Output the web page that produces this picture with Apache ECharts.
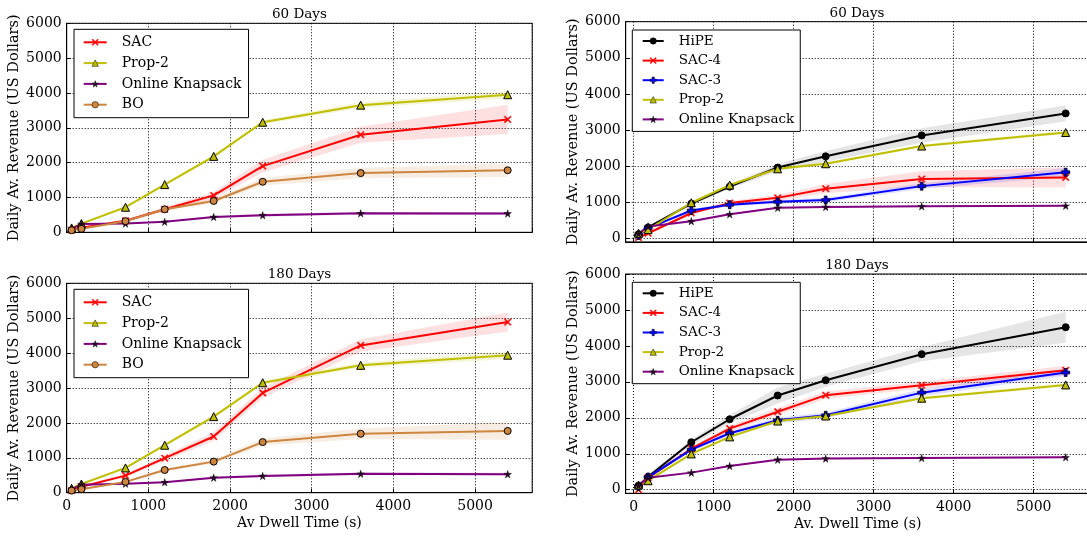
<!DOCTYPE html>
<html>
<head>
<meta charset="utf-8">
<script src="https://cdn.jsdelivr.net/npm/echarts@6/dist/echarts.min.js"></script>
<style>
html,body{margin:0;padding:0;background:#fff;}
#chart{width:1087px;height:536px;}
</style>
</head>
<body>
<div id="chart"></div>
<script>
// ---------------- DATA ----------------
const dwellTimes = [60, 180, 720, 1200, 1800, 2400, 3600, 5400];

// Top-left: 60 Days
const tl_SAC   = [60, 130, 330, 660, 1060, 1900, 2800, 3240];
const tl_Prop2 = [125, 250, 720, 1370, 2180, 3160, 3650, 3950];
const tl_OK    = [100, 240, 250, 300, 440, 490, 545, 540];
const tl_BO    = [60, 100, 320, 660, 900, 1450, 1700, 1780];
const tl_SAC_err   = [20, 30, 40, 60, 100, 180, 230, 420];
const tl_Prop2_err = [10, 20, 30, 40, 50, 60, 80, 110];
const tl_OK_err    = [10, 20, 20, 20, 30, 40, 40, 40];
const tl_BO_err    = [10, 20, 30, 40, 60, 110, 150, 190];

// Top-right: 60 Days
const tr_HiPE  = [110, 300, 960, 1430, 1960, 2270, 2850, 3460];
const tr_SAC4  = [20, 140, 700, 975, 1120, 1375, 1640, 1685];
const tr_SAC3  = [80, 280, 770, 930, 1010, 1060, 1445, 1830];
const tr_Prop2 = [140, 240, 985, 1475, 1925, 2065, 2555, 2930];
const tr_OK    = [130, 325, 475, 665, 845, 870, 885, 900];
const tr_HiPE_err  = [20, 30, 50, 60, 100, 150, 200, 220];
const tr_SAC4_err  = [20, 30, 50, 60, 80, 130, 220, 280];
const tr_SAC3_err  = [20, 30, 40, 40, 50, 60, 80, 120];
const tr_Prop2_err = [10, 20, 30, 30, 40, 40, 40, 50];
const tr_OK_err    = [10, 10, 20, 20, 20, 20, 20, 20];

// Bottom-left: 180 Days
const bl_SAC   = [60, 170, 490, 990, 1610, 2860, 4220, 4890];
const bl_Prop2 = [125, 250, 710, 1360, 2180, 3150, 3650, 3940];
const bl_OK    = [100, 230, 260, 300, 430, 480, 540, 530];
const bl_BO    = [60, 100, 310, 650, 890, 1450, 1690, 1770];
const bl_SAC_err   = [20, 30, 50, 80, 120, 150, 180, 270];
const bl_Prop2_err = [10, 20, 30, 40, 50, 60, 80, 110];
const bl_OK_err    = [10, 20, 20, 20, 30, 40, 40, 40];
const bl_BO_err    = [10, 20, 30, 40, 60, 100, 150, 250];

// Bottom-right: 180 Days
const br_HiPE  = [110, 360, 1320, 1960, 2620, 3045, 3770, 4520];
const br_SAC4  = [0, 330, 1140, 1700, 2170, 2630, 2905, 3320];
const br_SAC3  = [90, 350, 1115, 1570, 1930, 2070, 2700, 3260];
const br_Prop2 = [130, 250, 995, 1470, 1910, 2050, 2545, 2915];
const br_OK    = [120, 330, 475, 660, 835, 865, 880, 900];
const br_HiPE_err  = [20, 40, 80, 120, 220, 180, 200, 430];
const br_SAC4_err  = [20, 30, 60, 80, 100, 100, 100, 130];
const br_SAC3_err  = [20, 30, 50, 60, 80, 80, 100, 100];
const br_Prop2_err = [10, 20, 30, 30, 40, 40, 40, 50];
const br_OK_err    = [10, 10, 20, 20, 20, 20, 20, 20];

const panelTitles = ['60 Days', '60 Days', '180 Days', '180 Days'];
const leftLegend  = ['SAC', 'Prop-2', 'Online Knapsack', 'BO'];
const rightLegend = ['HiPE', 'SAC-4', 'SAC-3', 'Prop-2', 'Online Knapsack'];
const yName = 'Daily Av. Revenue (US Dollars)';
const xNameLeft = 'Av Dwell Time (s)';
const xNameRight = 'Av. Dwell Time (s)';

// ---------------- STYLE ----------------
const F = "'DejaVu Serif', serif";
const XPATH = 'path://M0,12L12,0L50,38L88,0L100,12L62,50L100,88L88,100L50,62L12,100L0,88L38,50Z';
const STAR = 'path://M50,0L61,35L98,35L68,57L79,91L50,70L21,91L32,57L2,35L39,35Z';
const PLUS = 'path://M33,0H67V33H100V67H67V100H33V67H0V33H33Z';
const STY = {
  'SAC':   {line:'#ff0000', symbol:XPATH, size:7, fill:'#ff0000', border:'#ff0000', bw:0.5, band:'#ff0000', op:0.12},
  'SAC-4': {line:'#ff0000', symbol:XPATH, size:7, fill:'#ff0000', border:'#ff0000', bw:0.5, band:'#ff0000', op:0.12},
  'SAC-3': {line:'#0000ff', symbol:PLUS, size:8, fill:'#0000ff', border:'#000', bw:0.8, band:'#0000ff', op:0.12},
  'Prop-2':{line:'#bfbf00', symbol:'triangle', size:8, fill:'#bfbf00', border:'#000', bw:1, band:'#bfbf00', op:0.15},
  'Online Knapsack': {line:'#800080', symbol:STAR, size:7.5, fill:'#2a002a', border:'#000', bw:0.4, band:'#800080', op:0.15},
  'BO':    {line:'#CD853F', symbol:'circle', size:7, fill:'#CD853F', border:'#000', bw:1, band:'#CD853F', op:0.15},
  'HiPE':  {line:'#000000', symbol:'circle', size:7, fill:'#000000', border:'#000', bw:1, band:'#000000', op:0.1}
};

// grid geometry
const grids = [
  {left:66.7, top:23.3, width:465.5, height:209},
  {left:625.7, top:21.7, width:464, height:220.2},
  {left:66.7, top:283.3, width:465.5, height:209.4},
  {left:625.7, top:274, width:464, height:219.3}
];
const isRight = [false, true, false, true];
const isBottom = [false, false, true, true];

function lineSeries(name, ys, gi) {
  const s = STY[name];
  return {
    type:'line', name, xAxisIndex:gi, yAxisIndex:gi, z:3,
    data: dwellTimes.map((x, i) => [x, ys[i]]),
    symbol:s.symbol, symbolSize:s.size, showAllSymbol:true,
    lineStyle:{color:s.line, width:2},
    itemStyle:{color:s.fill, borderColor:s.border, borderWidth:s.bw},
    emphasis:{disabled:true}, clip:false
  };
}
function bandSeries(name, ys, err, gi) {
  const s = STY[name];
  return {
    type:'custom', xAxisIndex:gi, yAxisIndex:gi, z:1, silent:true,
    data:[[dwellTimes[0], ys[0]]],
    renderItem(params, api) {
      const up = dwellTimes.map((x, i) => api.coord([x, ys[i] + err[i]]));
      const lo = dwellTimes.map((x, i) => api.coord([x, ys[i] - err[i]])).reverse();
      const cs = params.coordSys;
      return {
        type:'polygon', shape:{points: up.concat(lo)},
        style:{fill:s.band, opacity:s.op},
        clipPath:{type:'rect', shape:{x:cs.x, y:cs.y, width:cs.width, height:cs.height}}
      };
    }
  };
}

const panels = [
  [['SAC', tl_SAC, tl_SAC_err], ['Prop-2', tl_Prop2, tl_Prop2_err], ['Online Knapsack', tl_OK, tl_OK_err], ['BO', tl_BO, tl_BO_err]],
  [['HiPE', tr_HiPE, tr_HiPE_err], ['SAC-4', tr_SAC4, tr_SAC4_err], ['SAC-3', tr_SAC3, tr_SAC3_err], ['Prop-2', tr_Prop2, tr_Prop2_err], ['Online Knapsack', tr_OK, tr_OK_err]],
  [['SAC', bl_SAC, bl_SAC_err], ['Prop-2', bl_Prop2, bl_Prop2_err], ['Online Knapsack', bl_OK, bl_OK_err], ['BO', bl_BO, bl_BO_err]],
  [['HiPE', br_HiPE, br_HiPE_err], ['SAC-4', br_SAC4, br_SAC4_err], ['SAC-3', br_SAC3, br_SAC3_err], ['Prop-2', br_Prop2, br_Prop2_err], ['Online Knapsack', br_OK, br_OK_err]]
];

const series = [];
panels.forEach((p, gi) => {
  p.forEach(([n, ys, err]) => series.push(bandSeries(n, ys, err, gi)));
  p.forEach(([n, ys]) => series.push(lineSeries(n, ys, gi)));
});

const splitStyle = {show:true, lineStyle:{color:'#000', type:[1, 2], width:1}};
const labelBase = {color:'#000', fontFamily:F, fontSize:14, formatter: v => String(v)};

const xAxes = grids.map((g, gi) => ({
  type:'value', gridIndex:gi, min: isRight[gi] ? -100 : 0, max:5700, splitNumber:6,
  axisLine:{show:true, onZero:false, lineStyle:{color:'#000', width:1}},
  axisTick:{show:true, inside:true, length:4, lineStyle:{color:'#000'}},
  axisLabel:Object.assign({show:isBottom[gi], margin:7, showMinLabel:!isRight[gi], showMaxLabel:false}, labelBase),
  splitLine:splitStyle,
  name: isBottom[gi] ? (isRight[gi] ? xNameRight : xNameLeft) : '',
  nameLocation:'middle', nameGap:24,
  nameTextStyle:{color:'#000', fontFamily:F, fontSize:14}
}));
const yAxes = grids.map((g, gi) => {
  const a = {
    type:'value', gridIndex:gi, min: isRight[gi] ? -100 : 0, max:6000,
    axisLine:{show:true, onZero:false, lineStyle:{color:'#000', width:1}},
    axisTick:{show:true, inside:true, length:4, lineStyle:{color:'#000'}},
    axisLabel:Object.assign({margin:5, showMinLabel:!isRight[gi]}, labelBase),
    splitLine:splitStyle,
    name:yName, nameLocation:'middle', nameGap:40, nameRotate:90,
    nameTextStyle:{color:'#000', fontFamily:F, fontSize:14.5}
  };
  if (isRight[gi]) a.splitNumber = 6; else a.interval = 1000;
  return a;
});

const titles = grids.map((g, gi) => ({
  text:panelTitles[gi], left:g.left + g.width / 2, top:g.top - 16, textAlign:'center', padding:0,
  textStyle:{color:'#000', fontFamily:F, fontSize:13.5, fontWeight:'normal', lineHeight:15}
}));
titles[1].left = 857; titles[3].left = 857;

const legends = grids.map((g, gi) => {
  const r = isRight[gi];
  return {
    show:true, orient:'vertical',
    left: r ? 632.3 : 74, top: r ? g.top + 8.3 : g.top + 6,
    data: r ? rightLegend : leftLegend,
    itemWidth: r ? 21 : 23, itemHeight:8, itemGap: r ? 5.6 : 6.8,
    padding: r ? [4, 6, 5, 9.4] : [6, 7, 6, 8.7],
    backgroundColor:'#fff', borderColor:'#000', borderWidth:1, borderRadius:0,
    selectedMode:false,
    itemStyle:{borderWidth:0.5},
    textStyle:{color:'#000', fontFamily:F, fontSize: r ? 13.5 : 14, padding:[0, 0, 0, 10]},
    z:10
  };
});

const option = {
  animation:false,
  backgroundColor:'#fff',
  title:titles,
  legend:legends,
  grid:grids.map(g => Object.assign({show:true, borderColor:'#000', borderWidth:1, backgroundColor:'transparent', containLabel:false, outerBoundsMode:'none'}, g)),
  xAxis:xAxes,
  yAxis:yAxes,
  series
};
const chart = echarts.init(document.getElementById('chart'), null, {renderer:'canvas'});
chart.setOption(option);
</script>
</body>
</html>
